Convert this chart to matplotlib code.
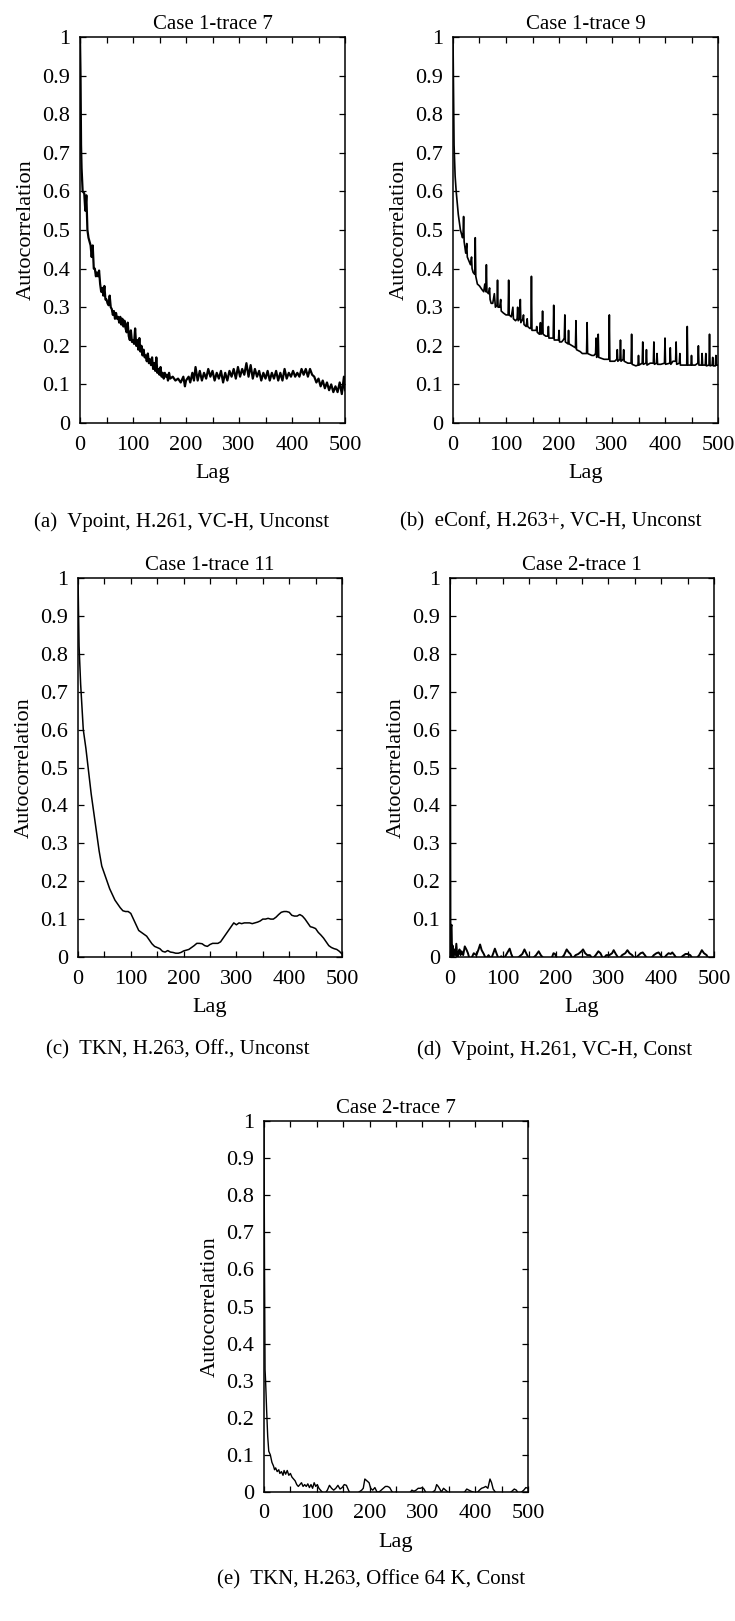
import matplotlib
matplotlib.use('Agg')
import matplotlib.pyplot as plt

plt.rcParams['font.family'] = ['Liberation Serif', 'DejaVu Serif']
plt.rcParams['font.size'] = 16

# ---- data ----
titles = ['Case 1-trace 7', 'Case 1-trace 9', 'Case 1-trace 11', 'Case 2-trace 1', 'Case 2-trace 7']
captions = ['(a)  Vpoint, H.261, VC-H, Unconst', '(b)  eConf, H.263+, VC-H, Unconst',
            '(c)  TKN, H.263, Off., Unconst', '(d)  Vpoint, H.261, VC-H, Const',
            '(e)  TKN, H.263, Office 64 K, Const']
ytick_vals = [0, 0.1, 0.2, 0.3, 0.4, 0.5, 0.6, 0.7, 0.8, 0.9, 1]
ytick_labels = ['0', '0.1', '0.2', '0.3', '0.4', '0.5', '0.6', '0.7', '0.8', '0.9', '1']
xtick_vals = [0, 100, 200, 300, 400, 500]

# (a) Case 1-trace 7
lag_a = [0, 1, 2, 3, 5, 8, 10, 12, 14, 16, 18, 20, 22, 24, 26, 28, 30, 32, 34, 36, 38, 40,
         42, 44, 46, 48, 50, 52, 54, 56, 58, 60, 62, 64, 66, 68, 70, 72, 74, 76, 78, 80,
         82, 84, 86, 88, 90, 92, 94, 96, 98, 100, 102, 104, 106, 108, 110, 112, 114, 116,
         118, 120, 122, 124, 126, 128, 130, 132, 134, 136, 138, 140, 142, 144, 146, 148,
         150, 152, 154, 156, 158, 160, 162, 164, 166, 168, 170, 175, 180, 185, 190, 195,
         198, 200, 205, 208, 212, 215, 218, 222, 226, 230, 234, 238, 242, 246, 250, 254,
         258, 262, 266, 270, 274, 278, 282, 286, 290, 294, 298, 302, 306, 310, 314, 318,
         322, 326, 330, 334, 338, 342, 346, 350, 354, 358, 362, 366, 370, 374, 378, 382,
         386, 390, 394, 398, 402, 406, 410, 414, 418, 422, 426, 430, 434, 438, 442, 446,
         450, 454, 458, 462, 466, 470, 474, 478, 482, 486, 490, 494, 498, 500]
acf_a = [1.0, 0.9, 0.72, 0.66, 0.6, 0.595, 0.55, 0.59, 0.5, 0.48, 0.47, 0.46, 0.43, 0.46, 0.40,
         0.40, 0.38, 0.39, 0.38, 0.395, 0.36, 0.34, 0.35, 0.33, 0.355, 0.32, 0.32, 0.31, 0.305,
         0.33, 0.30, 0.295, 0.28, 0.29, 0.27, 0.285, 0.27, 0.275, 0.26, 0.275, 0.255, 0.27,
         0.25, 0.265, 0.245, 0.235, 0.26, 0.225, 0.215, 0.24, 0.21, 0.215, 0.205, 0.245, 0.2,
         0.215, 0.19, 0.22, 0.185, 0.2, 0.175, 0.19, 0.17, 0.175, 0.16, 0.18, 0.155, 0.165,
         0.15, 0.17, 0.14, 0.155, 0.135, 0.17, 0.13, 0.14, 0.125, 0.145, 0.12, 0.13, 0.115,
         0.13, 0.12, 0.125, 0.11, 0.13, 0.115, 0.12, 0.11, 0.115, 0.105, 0.12, 0.095, 0.11,
         0.12, 0.105, 0.13, 0.11, 0.145, 0.11, 0.135, 0.11, 0.13, 0.115, 0.14, 0.12, 0.135,
         0.11, 0.13, 0.115, 0.135, 0.105, 0.13, 0.11, 0.135, 0.12, 0.14, 0.115, 0.145, 0.12,
         0.14, 0.125, 0.155, 0.12, 0.15, 0.115, 0.14, 0.12, 0.135, 0.11, 0.13, 0.115, 0.135,
         0.11, 0.13, 0.115, 0.135, 0.11, 0.13, 0.11, 0.14, 0.115, 0.13, 0.12, 0.135, 0.12,
         0.13, 0.12, 0.14, 0.125, 0.14, 0.12, 0.14, 0.125, 0.12, 0.105, 0.115, 0.095, 0.11,
         0.09, 0.105, 0.085, 0.1, 0.08, 0.095, 0.08, 0.105, 0.075, 0.12, 0.085]

# (b) Case 1-trace 9 (periodic spikes)
lag_b = [0, 1, 2, 4, 6, 8, 10, 12, 14, 16, 18, 19, 20, 21, 22, 24, 26, 27, 30, 33, 35, 36, 38,
         41, 42, 43, 46, 50, 55, 58, 60, 62, 63, 64, 67, 69, 70, 72, 75, 78, 80, 83, 84, 85,
         88, 90, 91, 95, 100, 104, 105, 106, 110, 113, 114, 118, 121, 122, 123, 126, 127, 128,
         132, 133, 134, 138, 140, 141, 145, 147, 148, 149, 155, 157, 158, 159, 163, 165, 166,
         168, 169, 170, 175, 179, 180, 181, 185, 189, 190, 191, 195, 199, 200, 201, 205, 208,
         210, 211, 212, 217, 218, 219, 225, 231, 232, 233, 240, 244, 252, 253, 254, 262, 266,
         269, 270, 271, 273, 274, 275, 285, 294, 295, 296, 305, 309, 310, 311, 315, 316, 317,
         321, 322, 323, 330, 336, 337, 338, 345, 349, 350, 351, 357, 358, 359, 364, 365, 366,
         372, 378, 379, 380, 384, 385, 386, 392, 399, 400, 401, 409, 410, 411, 415, 420, 421,
         422, 427, 428, 429, 435, 441, 442, 443, 449, 450, 451, 457, 462, 463, 464, 469, 470,
         471, 476, 477, 478, 483, 484, 485, 489, 490, 491, 495, 496, 497, 500]
acf_b = [1.0, 0.85, 0.72, 0.64, 0.6, 0.57, 0.54, 0.52, 0.50, 0.49, 0.48, 0.49, 0.535, 0.47,
         0.46, 0.44, 0.465, 0.43, 0.42, 0.41, 0.43, 0.40, 0.39, 0.385, 0.48, 0.38, 0.36, 0.355,
         0.345, 0.34, 0.36, 0.34, 0.41, 0.34, 0.335, 0.35, 0.32, 0.31, 0.31, 0.335, 0.30, 0.305,
         0.37, 0.30, 0.30, 0.32, 0.29, 0.285, 0.28, 0.28, 0.37, 0.28, 0.275, 0.30, 0.27, 0.265,
         0.27, 0.30, 0.265, 0.27, 0.32, 0.26, 0.27, 0.28, 0.255, 0.25, 0.27, 0.25, 0.245, 0.245,
         0.38, 0.24, 0.24, 0.24, 0.25, 0.235, 0.23, 0.26, 0.23, 0.235, 0.29, 0.23, 0.225, 0.225,
         0.25, 0.22, 0.22, 0.22, 0.305, 0.215, 0.215, 0.215, 0.24, 0.21, 0.21, 0.215, 0.22, 0.28,
         0.21, 0.205, 0.24, 0.205, 0.2, 0.195, 0.265, 0.19, 0.185, 0.18, 0.18, 0.26, 0.18, 0.175,
         0.175, 0.18, 0.22, 0.17, 0.175, 0.23, 0.17, 0.165, 0.165, 0.28, 0.16, 0.16, 0.165, 0.19,
         0.16, 0.165, 0.215, 0.16, 0.165, 0.19, 0.16, 0.155, 0.155, 0.23, 0.152, 0.148, 0.15,
         0.175, 0.15, 0.155, 0.21, 0.152, 0.155, 0.19, 0.15, 0.155, 0.155, 0.21, 0.152, 0.155,
         0.18, 0.152, 0.152, 0.155, 0.22, 0.152, 0.155, 0.195, 0.152, 0.16, 0.16, 0.21, 0.152,
         0.155, 0.18, 0.15, 0.15, 0.15, 0.25, 0.15, 0.15, 0.175, 0.15, 0.15, 0.155, 0.2, 0.15,
         0.15, 0.18, 0.15, 0.15, 0.18, 0.148, 0.15, 0.23, 0.148, 0.15, 0.17, 0.148, 0.148, 0.175,
         0.15, 0.15]

# (c) Case 1-trace 11 (smooth)
lag_c = [0, 2, 5, 10, 15, 20, 25, 30, 35, 40, 45, 50, 55, 60, 65, 70, 75, 80, 85, 90, 95, 100,
         105, 110, 115, 120, 125, 130, 135, 140, 145, 150, 155, 160, 165, 170, 175, 180, 185,
         190, 195, 200, 205, 210, 215, 220, 225, 230, 235, 240, 245, 250, 255, 260, 265, 270,
         275, 280, 285, 290, 295, 300, 305, 310, 315, 320, 325, 330, 335, 340, 345, 350, 355,
         360, 365, 370, 375, 380, 385, 390, 395, 400, 405, 410, 415, 420, 425, 430, 435, 440,
         445, 450, 455, 460, 465, 470, 475, 480, 485, 490, 495, 500]
acf_c = [1.0, 0.82, 0.72, 0.6, 0.55, 0.49, 0.43, 0.38, 0.33, 0.28, 0.24, 0.22, 0.2, 0.18,
         0.165, 0.15, 0.14, 0.13, 0.122, 0.12, 0.12, 0.115, 0.1, 0.085, 0.07, 0.065, 0.06, 0.055,
         0.045, 0.035, 0.028, 0.025, 0.022, 0.015, 0.013, 0.017, 0.013, 0.012, 0.01, 0.01, 0.012,
         0.016, 0.018, 0.02, 0.025, 0.03, 0.036, 0.036, 0.035, 0.03, 0.028, 0.033, 0.036, 0.036,
         0.036, 0.04, 0.05, 0.06, 0.07, 0.08, 0.09, 0.085, 0.09, 0.088, 0.09, 0.09, 0.09, 0.088,
         0.09, 0.092, 0.095, 0.1, 0.1, 0.102, 0.1, 0.1, 0.105, 0.112, 0.118, 0.12, 0.12, 0.118,
         0.11, 0.108, 0.108, 0.112, 0.108, 0.1, 0.09, 0.08, 0.078, 0.075, 0.065, 0.058, 0.05,
         0.04, 0.03, 0.025, 0.022, 0.02, 0.015, 0.008]

# (d) Case 2-trace 1
lag_d = [0, 1, 2, 3, 4, 5, 6, 8, 10, 12, 14, 16, 18, 20, 22, 25, 28, 31, 34, 37, 40, 45, 50,
         54, 57, 60, 64, 68, 73, 78, 82, 85, 88, 92, 97, 102, 108, 113, 116, 120, 126, 132,
         137, 141, 145, 150, 156, 163, 168, 172, 178, 185, 192, 196, 199, 203, 210, 216, 221,
         225, 228, 232, 238, 243, 249, 252, 256, 260, 265, 270, 276, 281, 285, 290, 296, 302,
         307, 310, 314, 320, 326, 332, 336, 340, 345, 350, 355, 361, 365, 369, 374, 380, 386,
         391, 395, 399, 404, 410, 414, 418, 421, 425, 430, 436, 440, 446, 450, 455, 460, 466,
         472, 477, 481, 486, 490, 495, 500]
acf_d = [1.0, 0.0, 0.08, 0.085, 0.0, 0.03, 0.0, 0.02, 0.005, 0.035, 0.0, 0.01, 0.02, 0.005,
         0.015, 0.005, 0.028, 0.02, 0.01, -0.005, -0.005, 0.01, 0.005, 0.02, 0.033, 0.018, 0.008,
         -0.005, 0.005, -0.005, 0.01, 0.022, 0.01, -0.005, 0.002, -0.005, 0.01, 0.022, 0.008,
         -0.005, -0.005, 0.002, 0.008, 0.02, 0.008, -0.005, -0.005, 0.005, 0.015, 0.005, -0.005,
         -0.005, -0.005, 0.01, 0.008, -0.005, -0.005, 0.005, 0.02, 0.012, 0.008, -0.005, 0.005,
         0.008, 0.015, 0.02, 0.01, 0.005, 0.005, -0.005, 0.005, 0.015, 0.01, -0.005, 0.005,
         0.005, 0.01, 0.018, 0.008, -0.005, 0.005, 0.01, 0.018, 0.01, 0.005, -0.005, 0.002,
         0.01, 0.012, 0.005, -0.005, -0.005, 0.005, 0.01, 0.012, 0.005, -0.005, 0.005, 0.01,
         0.008, 0.012, 0.005, -0.005, -0.005, 0.002, 0.008, 0.008, 0.005, -0.005, -0.005, 0.005,
         0.018, 0.01, 0.005, -0.005, -0.005, 0.0]

# (e) Case 2-trace 7
lag_e = [0, 1, 2, 3, 5, 7, 9, 12, 15, 18, 20, 22, 25, 28, 30, 33, 36, 38, 41, 44, 47, 50, 53,
         56, 59, 62, 65, 68, 71, 74, 77, 80, 83, 86, 89, 92, 95, 98, 101, 104, 107, 110, 115,
         120, 124, 128, 132, 136, 140, 144, 148, 152, 156, 160, 165, 170, 175, 180, 185, 188,
         191, 195, 199, 202, 206, 210, 214, 218, 222, 226, 230, 234, 238, 242, 246, 250, 254,
         260, 265, 270, 275, 280, 284, 288, 292, 296, 300, 303, 306, 310, 316, 320, 324, 327,
         330, 333, 336, 340, 344, 348, 352, 358, 364, 370, 375, 380, 384, 388, 392, 396, 400,
         405, 408, 412, 416, 420, 424, 428, 431, 434, 438, 442, 448, 455, 462, 468, 474, 478,
         482, 488, 492, 496, 500]
acf_e = [1.0, 0.6, 0.33, 0.3, 0.22, 0.15, 0.11, 0.1, 0.08, 0.07, 0.06, 0.065, 0.055, 0.06,
         0.05, 0.055, 0.045, 0.058, 0.048, 0.058, 0.045, 0.05, 0.04, 0.035, 0.03, 0.02, 0.015,
         0.02, 0.025, 0.015, 0.02, 0.015, 0.022, 0.012, 0.02, 0.01, 0.025, 0.015, 0.02, 0.01,
         0.005, 0.0, -0.005, 0.005, 0.018, 0.01, 0.005, 0.01, 0.018, 0.008, 0.012, 0.02, 0.018,
         0.005, -0.01, -0.01, -0.01, 0.0, 0.005, 0.01, 0.035, 0.03, 0.025, 0.01, 0.005, 0.012,
         0.0, 0.0, 0.005, 0.01, 0.015, 0.015, 0.012, 0.002, -0.005, 0.0, -0.005, -0.01, -0.01,
         -0.01, -0.005, 0.005, 0.002, 0.005, 0.01, 0.01, 0.012, 0.008, 0.0, -0.01, -0.01, 0.0,
         0.005, 0.02, 0.015, 0.008, 0.0, 0.01, 0.005, 0.0, -0.01, -0.01, -0.01, -0.01, -0.005,
         0.0, 0.008, 0.005, 0.002, 0.0, -0.005, 0.0, 0.005, 0.01, 0.012, 0.015, 0.01, 0.035,
         0.025, 0.008, 0.0, -0.005, -0.01, -0.01, -0.005, 0.0, 0.008, 0.005, -0.005, 0.0, 0.005,
         0.012, 0.01]

series = [(lag_a, acf_a), (lag_b, acf_b), (lag_c, acf_c), (lag_d, acf_d), (lag_e, acf_e)]

# axes boxes in pixels: left, top, right, bottom (of a 735x1621 canvas)
W, H = 735, 1621
boxes = [(80, 37, 345, 423), (453, 37, 718, 423), (78, 578, 342, 957),
         (450, 578, 714, 957), (264, 1121, 528, 1492)]
cap_pos = [(182, 522), (551, 522), (178, 1050), (555, 1050), (371, 1580)]
widths = [1.6, 1.2, 1.1, 1.4, 1.0]

fig = plt.figure(figsize=(W / 100, H / 100), dpi=100)

for i in range(5):
    l, t, r, b = boxes[i]
    ax = fig.add_axes([l / W, 1 - b / H, (r - l) / W, (b - t) / H])
    x, y = series[i]
    ax.plot(x, y, color='black', lw=widths[i])
    ax.set_xlim(0, 500)
    ax.set_ylim(0, 1)
    ax.set_xticks(xtick_vals)
    ax.set_xticks(range(50, 500, 100), minor=True)
    ax.set_yticks(ytick_vals)
    ax.set_yticklabels(ytick_labels)
    ax.tick_params(which='both', direction='in', top=True, right=True, length=4, width=0.9)
    ax.tick_params(axis='x', pad=9)
    ax.tick_params(axis='y', pad=7)
    for s in ax.spines.values():
        s.set_linewidth(1.1)
    ax.set_title(titles[i], fontsize=15, pad=6)
    ax.set_xlabel('Lag', labelpad=7)
    ax.set_ylabel('Autocorrelation', labelpad=5)
    fig.text(cap_pos[i][0] / W, 1 - cap_pos[i][1] / H, captions[i], ha='center', va='center',
             fontsize=15)

fig.savefig('out.png', dpi=100)
